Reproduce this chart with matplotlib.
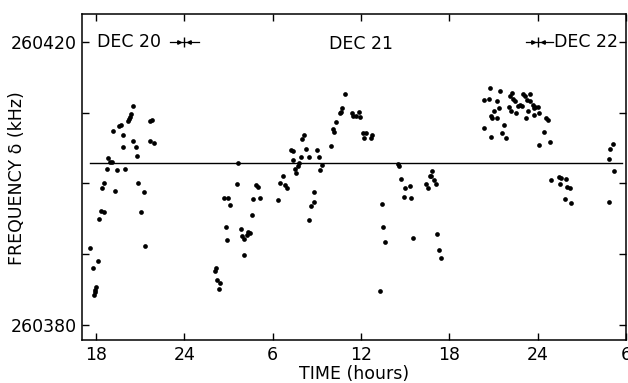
import numpy as np
import matplotlib
matplotlib.use("Agg")
import matplotlib.pyplot as plt

# time in hours counted from 0h Dec 20 (24 = midnight Dec 20/21, 48 = midnight Dec 21/22)
# frequency in kHz

# --- Dec 20 evening
t_run1 = [20.49, 20.40, 20.33, 20.22, 20.15, 21.80, 21.67, 19.70, 19.58, 19.18,
          19.81, 20.51, 21.67, 21.94, 19.85, 20.70, 20.81, 18.82, 18.93, 19.09,
          18.73, 19.45, 19.95, 18.52, 18.43, 20.85, 19.27, 21.28, 18.32, 18.56,
          18.20, 21.04, 21.35, 17.57, 18.12, 17.78, 18.02, 17.95, 17.91, 17.86]
f_run1 = [260410.9, 260409.8, 260409.4, 260409.1, 260408.9, 260409.0, 260408.8, 260408.3, 260408.1, 260407.4,
          260406.9, 260406.0, 260406.0, 260405.7, 260405.2, 260405.1, 260403.9, 260403.6, 260403.1, 260403.0,
          260402.0, 260401.9, 260402.0, 260400.0, 260399.4, 260400.0, 260399.0, 260398.8, 260396.1, 260396.0,
          260395.0, 260396.0, 260391.1, 260390.9, 260389.0, 260388.1, 260385.3, 260385.0, 260384.7, 260384.2]

# --- Dec 21 early morning
t_run2 = [26.06, 26.13, 26.24, 26.44, 26.34, 26.70, 26.99, 27.08, 26.81, 26.88,
          27.56, 27.63, 27.83, 27.94, 28.05, 28.24, 28.33, 28.46, 28.07, 28.60,
          28.69, 28.87, 29.03, 29.16, 30.36, 30.50, 30.70, 30.84, 30.98]
f_run2 = [260387.7, 260388.0, 260386.4, 260385.9, 260385.1, 260397.9, 260398.0, 260397.0, 260393.9, 260392.0,
          260399.9, 260402.9, 260393.6, 260392.6, 260392.1, 260392.7, 260393.2, 260393.0, 260389.9, 260395.5,
          260397.8, 260399.8, 260399.5, 260397.9, 260397.6, 260400.0, 260401.0, 260399.8, 260399.3]

# --- Dec 21 morning to noon
t_run3 = [31.25, 31.40, 31.40, 31.50, 31.61, 31.79, 31.74, 31.93, 32.01, 32.11,
          32.27, 32.45, 32.99, 33.15, 33.33, 33.24, 32.81, 32.81, 32.63, 32.47,
          33.94, 34.08, 34.17, 34.28, 34.58, 34.62, 34.71, 34.92, 35.37, 35.48,
          35.64, 35.85, 35.93, 36.12, 36.34, 36.21, 36.77, 36.70]
f_run3 = [260404.8, 260404.6, 260403.3, 260402.0, 260401.5, 260402.9, 260402.5, 260403.7, 260406.3, 260406.8,
          260404.9, 260403.7, 260404.8, 260403.8, 260402.6, 260401.9, 260398.8, 260397.4, 260396.8, 260394.8,
          260405.3, 260407.7, 260407.3, 260408.7, 260409.9, 260410.1, 260410.7, 260412.7, 260409.9, 260409.6,
          260409.5, 260410.1, 260409.4, 260407.2, 260407.1, 260406.5, 260406.8, 260406.4]

# --- Dec 21 afternoon
t_run4 = [37.29, 37.41, 37.48, 37.61, 38.50, 38.58, 38.74, 38.97, 39.31, 38.90,
          39.42, 39.52, 40.42, 40.57, 40.67, 40.78, 40.83, 40.98, 41.08, 41.19,
          41.30, 41.44]
f_run4 = [260384.8, 260397.1, 260393.9, 260391.8, 260402.8, 260402.5, 260400.7, 260399.4, 260399.7, 260398.1,
          260397.9, 260392.3, 260399.9, 260399.4, 260401.1, 260401.0, 260401.8, 260400.5, 260399.9, 260392.8,
          260390.6, 260389.5]

# --- Dec 21 night
t_run5 = [44.75, 45.47, 44.36, 44.68, 45.24, 46.24, 46.13, 46.35, 46.44, 47.03,
          47.16, 47.50, 47.30, 47.48, 46.80, 46.69, 46.92, 47.67, 47.84, 48.01,
          47.78, 46.06, 45.38, 45.06, 46.17, 46.53, 47.37, 47.73, 48.10, 44.81,
          44.92, 45.22, 47.21, 48.55, 48.69, 44.34, 45.74, 45.60, 44.83, 45.83,
          48.41, 48.12, 48.82]
f_run5 = [260413.5, 260413.1, 260411.8, 260412.0, 260411.6, 260412.8, 260412.3, 260411.9, 260411.7, 260412.6,
          260412.3, 260412.7, 260411.8, 260411.6, 260411.1, 260410.9, 260410.9, 260411.1, 260410.8, 260410.8,
          260410.6, 260410.8, 260410.7, 260410.2, 260410.2, 260409.9, 260410.3, 260409.7, 260409.9, 260409.6,
          260409.3, 260409.2, 260409.2, 260409.3, 260409.0, 260407.8, 260408.2, 260407.1, 260406.6, 260406.4,
          260407.3, 260405.5, 260405.8]

# --- Dec 22 early morning
t_run6 = [48.94, 49.42, 49.59, 49.52, 49.93, 50.00, 50.17, 49.86, 50.24]
f_run6 = [260400.5, 260400.9, 260400.8, 260399.9, 260400.6, 260399.5, 260399.3, 260397.8, 260397.2]

# --- Dec 22 morning
t_run7 = [53.10, 52.94, 52.87, 53.21, 52.85]
f_run7 = [260405.6, 260404.9, 260403.4, 260401.8, 260397.4]

mean_freq = 260402.9

xticks = [18, 24, 30, 36, 42, 48, 54]
xtick_labels = ["18", "24", "6", "12", "18", "24", "6"]
yticks = [260380, 260390, 260400, 260410, 260420]
ytick_labels = ["260380", "", "", "", "260420"]

plt.rcParams["font.family"] = "DejaVu Sans"
plt.rcParams["font.size"] = 12.5

fig = plt.figure(figsize=(6.28, 3.83), dpi=100)
ax = fig.add_axes([0.1306, 0.1123, 0.8662, 0.8512])

times = [t_run1, t_run2, t_run3, t_run4, t_run5, t_run6, t_run7]
freqs = [f_run1, f_run2, f_run3, f_run4, f_run5, f_run6, f_run7]
for t, f in zip(times, freqs):
    ax.plot(t, f, "o", color="black", ms=3.4, mec="none")

ax.plot([17.6, 53.7], [mean_freq, mean_freq], color="black", lw=1.0)

# day labels with midnight markers
ax.text(18.07, 260420, "DEC 20", ha="left", va="center")
ax.text(36.0, 260419.7, "DEC 21", ha="center", va="center")
ax.text(49.1, 260420, "DEC 22", ha="left", va="center")
for mid, x0, x1 in [(24, 23.03, 25.0), (48, 47.2, 49.04)]:
    ax.plot([x0, x1], [260420, 260420], color="black", lw=0.9)
    ax.plot([mid], [260420], marker="|", color="black", ms=7, mew=1.0)
    ax.plot([mid - 0.35], [260420], marker=">", color="black", ms=2.5)
    ax.plot([mid + 0.35], [260420], marker="<", color="black", ms=2.5)

ax.set_xlim(17.05, 54.0)
ax.set_ylim(260377.88, 260423.96)
ax.set_xticks(xticks)
ax.set_xticklabels(xtick_labels)
ax.set_yticks(yticks)
ax.set_yticklabels(ytick_labels)
ax.tick_params(direction="in", length=5, width=1.0, top=True, right=True, pad=4)
for s in ax.spines.values():
    s.set_linewidth(1.1)

ax.set_xlabel("TIME (hours)", labelpad=1)
ax.set_ylabel("FREQUENCY δ (kHz)", va="center")
ax.yaxis.set_label_coords(-0.119, 0.497)

plt.savefig("out.png", dpi=100)
